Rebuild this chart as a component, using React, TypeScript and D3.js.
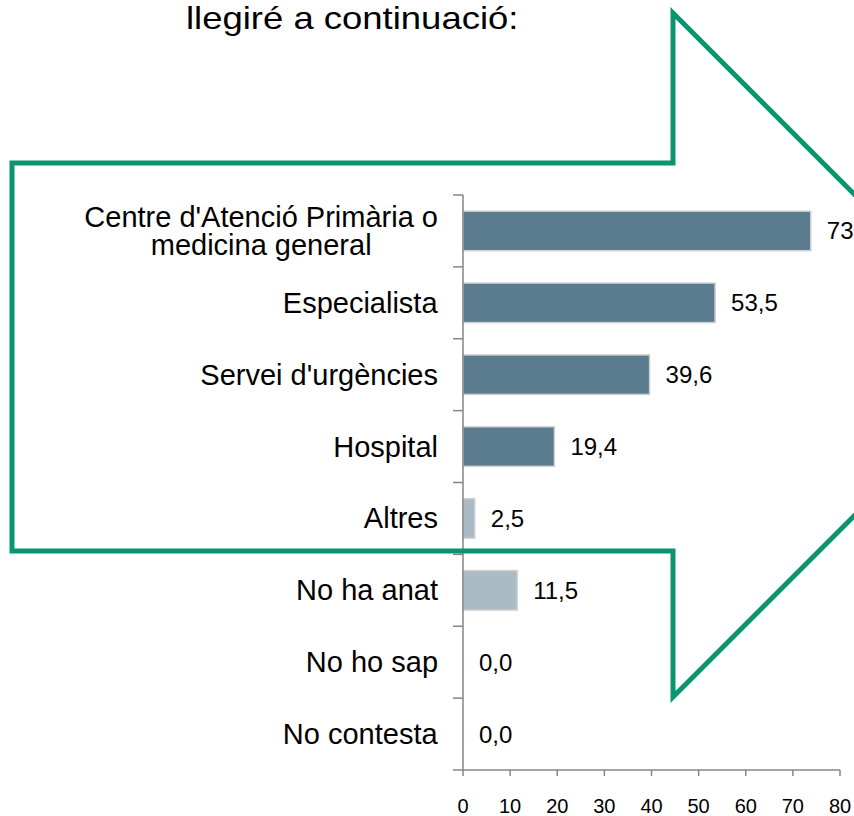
import React, { useEffect, useRef } from "react";
import * as d3 from "d3";

const categories = [
  "Centre d'Atenció Primària o\nmedicina general",
  "Especialista",
  "Servei d'urgències",
  "Hospital",
  "Altres",
  "No ha anat",
  "No ho sap",
  "No contesta",
];
const values = [73.8, 53.5, 39.6, 19.4, 2.5, 11.5, 0.0, 0.0];
const groups = ["main", "main", "main", "main", "other", "other", "other", "other"];
const xTicks = [0, 10, 20, 30, 40, 50, 60, 70, 80];
const titleText = "llegiré a continuació:";

const W = 854;
const H = 816;
const FONT = "Arial, 'Liberation Sans', sans-serif";

export default function App() {
  const ref = useRef<SVGSVGElement | null>(null);

  useEffect(() => {
    const svg = d3.select(ref.current);
    svg.selectAll("*").remove();

    const left = 463, right = 840, top = 195, bottom = 770;
    const x = d3.scaleLinear().domain([0, 80]).range([left, right]);
    const y = d3.scaleBand<string>().domain(categories).range([top, bottom]).paddingInner(0.45).paddingOuter(0.225);
    const color = d3.scaleOrdinal<string, string>().domain(["main", "other"]).range(["#5b7c8e", "#abbbc6"]);
    const fmt = (v: number) => d3.format(".1f")(v).replace(".", ",");

    // title
    svg.append("text")
      .attr("transform", "translate(186,29) scale(1.14,1)")
      .attr("font-family", FONT).attr("font-size", 32).attr("fill", "#000")
      .text(titleText);

    const g = svg.append("g");

    // bars
    g.selectAll("rect.bar").data(values).enter().append("rect")
      .attr("x", x(0))
      .attr("y", (_, i) => y(categories[i])!)
      .attr("width", (d) => Math.max(0, x(d) - x(0)))
      .attr("height", y.bandwidth())
      .attr("fill", (_, i) => color(groups[i]))
      .attr("stroke", (d) => (d > 0 ? "#d0d0d0" : "none"))
      .attr("stroke-width", 1.5);

    // value labels
    g.selectAll("text.val").data(values).enter().append("text")
      .attr("x", (d) => x(d) + 16)
      .attr("y", (_, i) => y(categories[i])! + y.bandwidth() / 2 + 8.5)
      .attr("font-family", FONT).attr("font-size", 24).attr("fill", "#000")
      .text((d) => fmt(d));

    // y axis line & ticks
    const axisColor = "#868686";
    g.append("line").attr("x1", left).attr("x2", left).attr("y1", top).attr("y2", bottom)
      .attr("stroke", axisColor).attr("stroke-width", 1.5);
    const step = (bottom - top) / categories.length;
    d3.range(categories.length + 1).forEach((k) => {
      g.append("line").attr("x1", left - 10).attr("x2", left).attr("y1", top + k * step).attr("y2", top + k * step)
        .attr("stroke", axisColor).attr("stroke-width", 1.5);
    });

    // x axis
    g.append("line").attr("x1", left).attr("x2", right).attr("y1", bottom).attr("y2", bottom)
      .attr("stroke", axisColor).attr("stroke-width", 1.5);
    xTicks.forEach((t) => {
      g.append("line").attr("x1", x(t)).attr("x2", x(t)).attr("y1", bottom).attr("y2", bottom + 6)
        .attr("stroke", axisColor).attr("stroke-width", 1.5);
      g.append("text").attr("x", x(t)).attr("y", 813).attr("text-anchor", "middle")
        .attr("font-family", FONT).attr("font-size", 20).attr("fill", "#000").text(String(t));
    });

    // category labels
    const labelRight = 438;
    categories.forEach((c, i) => {
      const lines = c.split("\n");
      const cy = y(c)! + y.bandwidth() / 2;
      const lh = 28.5;
      const t = g.append("text")
        .attr("font-family", FONT).attr("font-size", 29).attr("fill", "#000")
        .attr("text-anchor", "middle");
      lines.forEach((ln, j) => {
        t.append("tspan").attr("x", 0).attr("y", (j - (lines.length - 1) / 2) * lh + 10).text(ln);
      });
      const bb = (t.node() as SVGTextElement).getBBox();
      t.attr("transform", `translate(${labelRight - bb.width / 2},${cy})`);
    });

    // arrow outline
    const arrow = [
      [12, 163], [673, 163], [673, 13], [1015, 355], [673, 697], [673, 551], [12, 551],
    ];
    svg.append("path")
      .attr("d", d3.line()(arrow as [number, number][]) + "Z")
      .attr("fill", "none").attr("stroke", "#0a9571").attr("stroke-width", 5)
      .attr("stroke-linejoin", "miter");
  }, []);

  return (
    <svg ref={ref} width={W} height={H}
      style={{ position: "absolute", left: 0, top: 0, display: "block", background: "#fff" }} />
  );
}
